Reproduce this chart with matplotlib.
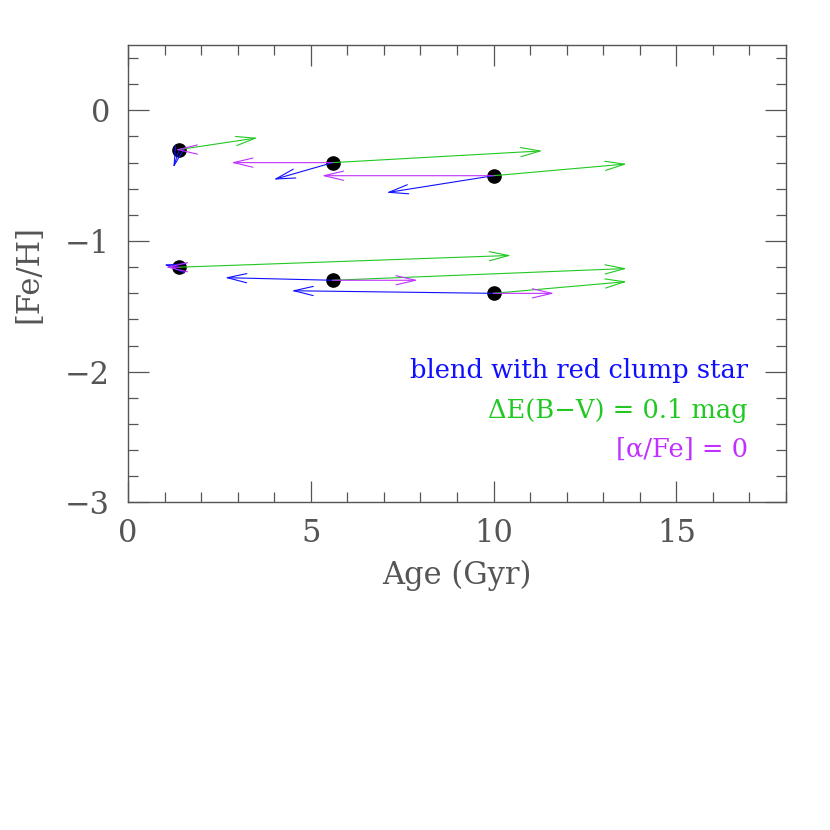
"""[Fe/H] vs age with shift vectors for blending, reddening and alpha enhancement."""

import matplotlib
matplotlib.use("Agg")
import matplotlib.pyplot as plt
from matplotlib.ticker import MultipleLocator

# measured points
ages = [1.4, 5.6, 10.0, 1.4, 5.6, 10.0]
feh = [-0.3, -0.4, -0.5, -1.2, -1.3, -1.4]

# arrow end points
blend_age = [1.24, 3.98, 7.07, 0.98, 2.65, 4.47]
blend_feh = [-0.44, -0.53, -0.63, -1.18, -1.28, -1.38]
redd_age = [3.55, 11.34, 13.65, 10.48, 13.65, 13.65]
redd_feh = [-0.21, -0.31, -0.41, -1.11, -1.21, -1.31]
alpha_age = [1.30, 2.82, 5.30, 1.03, 7.93, 11.66]
alpha_feh = [-0.30, -0.40, -0.50, -1.20, -1.30, -1.40]

legend_labels = ["blend with red clump star", "\u0394E(B\u2212V) = 0.1 mag", "[\u03b1/Fe] = 0"]

BLUE = "#1010ff"
GREEN = "#22c822"
MAGENTA = "#c030ff"
GREY = "#555555"

plt.rcParams["font.family"] = ["DejaVu Serif", "DejaVu Sans"]

fig = plt.figure(figsize=(8.3, 8.3), dpi=100)
ax = fig.add_axes([0.1542, 0.3946, 0.7928, 0.5512])

ax.plot(ages, feh, "o", color="black", ms=9.5, zorder=2)

arrow_style = "->,head_length=1.4,head_width=0.33"
for ex, ey, col in [(blend_age, blend_feh, BLUE),
                    (redd_age, redd_feh, GREEN),
                    (alpha_age, alpha_feh, MAGENTA)]:
    for x0, y0, x1, y1 in zip(ages, feh, ex, ey):
        ax.annotate("", xy=(x1, y1), xytext=(x0, y0),
                    arrowprops=dict(arrowstyle=arrow_style, color=col, lw=0.8,
                                    shrinkA=0, shrinkB=0), zorder=3)

ax.text(16.95, -2.046, legend_labels[0], color=BLUE, ha="right", va="baseline", fontsize=18.5)
ax.text(16.95, -2.35, legend_labels[1], color=GREEN, ha="right", va="baseline", fontsize=18.5)
ax.text(16.95, -2.65, legend_labels[2], color=MAGENTA, ha="right", va="baseline", fontsize=18.5)

ax.set_xlim(0, 18)
ax.set_ylim(-3, 0.5)
ax.xaxis.set_major_locator(MultipleLocator(5))
ax.xaxis.set_minor_locator(MultipleLocator(1))
ax.yaxis.set_major_locator(MultipleLocator(1))
ax.yaxis.set_minor_locator(MultipleLocator(0.2))

ax.tick_params(which="both", direction="in", top=True, right=True, color=GREY,
               labelcolor=GREY, labelsize=22)
ax.tick_params(which="major", length=15, width=0.9)
ax.tick_params(which="minor", length=7.5, width=0.9)
ax.tick_params(axis="x", pad=11)
ax.tick_params(axis="y", pad=13)
for sp in ax.spines.values():
    sp.set_color(GREY)
    sp.set_linewidth(1.0)

ax.set_xlabel("Age (Gyr)", fontsize=22, color=GREY, labelpad=8)
ax.set_ylabel("[Fe/H]", fontsize=22, color=GREY, labelpad=15)

plt.savefig("out.png", dpi=100)
plt.close()
